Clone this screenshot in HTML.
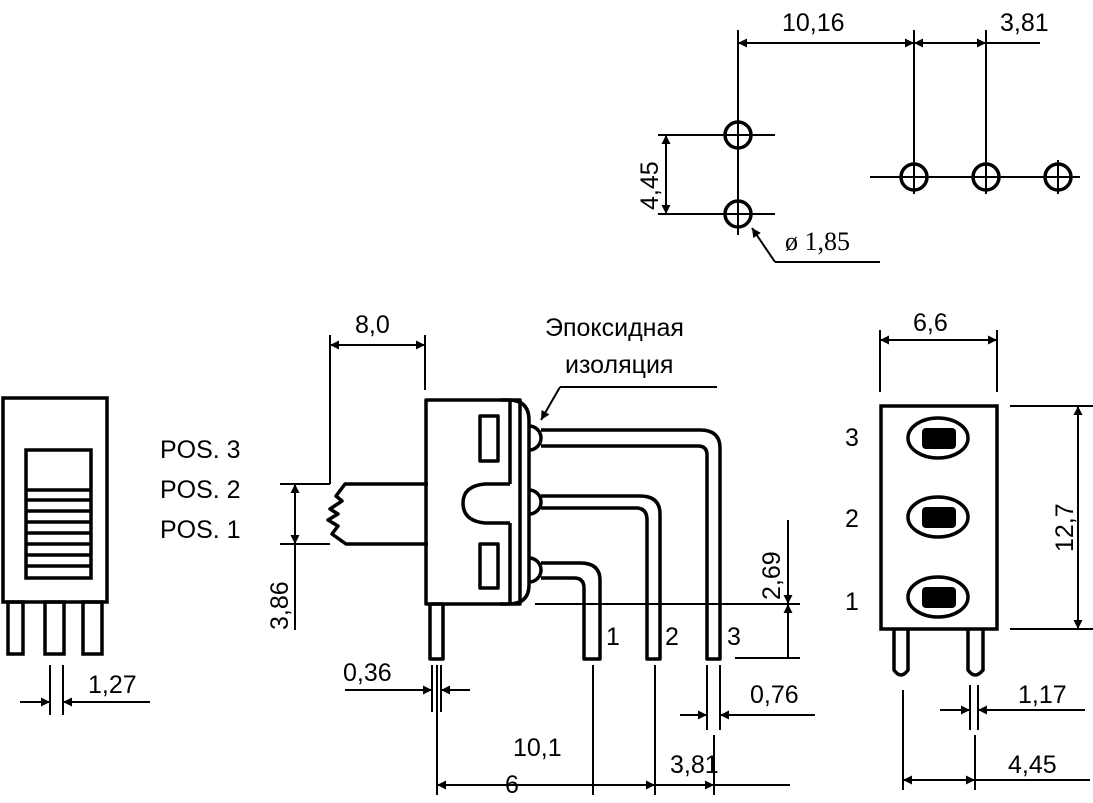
<!DOCTYPE html>
<html><head><meta charset="utf-8"><style>
html,body{margin:0;padding:0;background:#fff;}
svg{display:block;}
text{font-family:"Liberation Sans",sans-serif;font-size:25px;fill:#000;}
</style></head><body>
<svg width="1093" height="803" viewBox="0 0 1093 803" xmlns="http://www.w3.org/2000/svg">
<defs>
<marker id="a" viewBox="0 0 10 10" refX="10" refY="5" markerWidth="16" markerHeight="9" markerUnits="userSpaceOnUse" orient="auto-start-reverse"><path d="M0,0 L10,5 L0,10 z" fill="#000"/></marker>
</defs>
<g stroke="#000" fill="none">
<g stroke-width="2">
<line x1="738" y1="30" x2="738" y2="135"/>
<line x1="914" y1="30" x2="914" y2="177"/>
<line x1="986" y1="30" x2="986" y2="177"/>
<line x1="738" y1="43" x2="914" y2="43" marker-start="url(#a)" marker-end="url(#a)"/>
<line x1="914" y1="43" x2="986" y2="43" marker-start="url(#a)" marker-end="url(#a)"/>
<line x1="986" y1="43" x2="1040" y2="43"/>
<line x1="658" y1="135" x2="775" y2="135"/>
<line x1="658" y1="214" x2="775" y2="214"/>
<line x1="666" y1="135" x2="666" y2="214" marker-start="url(#a)" marker-end="url(#a)"/>
<line x1="738" y1="114" x2="738" y2="235"/>
<line x1="870" y1="177" x2="1080" y2="177"/>
<line x1="775" y1="262" x2="880" y2="262"/>
<line x1="775" y1="262" x2="752" y2="228" marker-end="url(#a)"/>
</g>
<g stroke-width="3.5">
<circle cx="738" cy="135" r="13"/><circle cx="738" cy="214" r="13"/>
<circle cx="914" cy="177" r="13"/><circle cx="986" cy="177" r="13"/><circle cx="1058" cy="177" r="13"/>
</g>
<g stroke-width="2">
<line x1="914" y1="160" x2="914" y2="194"/><line x1="986" y1="160" x2="986" y2="194"/><line x1="1058" y1="160" x2="1058" y2="194"/>
</g>
<g stroke-width="3.5">
<rect x="3" y="398" width="104" height="204"/>
<rect x="26" y="450" width="65" height="128"/>
<rect x="8" y="602" width="15" height="52"/>
<rect x="45" y="602" width="19" height="52"/>
<rect x="83" y="602" width="19" height="52"/>
<line x1="26" y1="490" x2="91" y2="490"/><line x1="26" y1="500" x2="91" y2="500"/>
<line x1="26" y1="511" x2="91" y2="511"/><line x1="26" y1="522" x2="91" y2="522"/>
<line x1="26" y1="533" x2="91" y2="533"/><line x1="26" y1="544" x2="91" y2="544"/>
<line x1="26" y1="555" x2="91" y2="555"/><line x1="26" y1="566" x2="91" y2="566"/>
</g>
<g stroke-width="2">
<line x1="50" y1="665" x2="50" y2="715"/><line x1="63" y1="665" x2="63" y2="715"/>
<line x1="20" y1="702" x2="50" y2="702" marker-end="url(#a)"/>
<line x1="150" y1="702" x2="63" y2="702" marker-end="url(#a)"/>
</g>
<g stroke-width="2">
<line x1="330" y1="335" x2="330" y2="484"/>
<line x1="425" y1="335" x2="425" y2="390"/>
<line x1="330" y1="345" x2="425" y2="345" marker-start="url(#a)" marker-end="url(#a)"/>
<line x1="280" y1="484" x2="330" y2="484"/>
<line x1="280" y1="544" x2="330" y2="544"/>
<line x1="295" y1="484" x2="295" y2="544" marker-start="url(#a)" marker-end="url(#a)"/>
<line x1="295" y1="544" x2="295" y2="630"/>
<line x1="560" y1="387" x2="717" y2="387"/>
<line x1="560" y1="387" x2="541" y2="420" marker-end="url(#a)"/>
<line x1="535" y1="604" x2="800" y2="604"/>
<line x1="735" y1="658" x2="800" y2="658"/>
<line x1="788" y1="520" x2="788" y2="604" marker-end="url(#a)"/>
<line x1="788" y1="658" x2="788" y2="604" marker-end="url(#a)"/>
<line x1="432" y1="665" x2="432" y2="712"/><line x1="441" y1="665" x2="441" y2="712"/>
<line x1="345" y1="690" x2="432" y2="690" marker-end="url(#a)"/>
<line x1="470" y1="690" x2="441" y2="690" marker-end="url(#a)"/>
<line x1="437" y1="665" x2="437" y2="795"/>
<line x1="593" y1="665" x2="593" y2="795"/>
<line x1="655" y1="665" x2="655" y2="795"/>
<line x1="707" y1="665" x2="707" y2="730"/><line x1="720" y1="665" x2="720" y2="730"/>
<line x1="714" y1="735" x2="714" y2="795"/>
<line x1="680" y1="715" x2="707" y2="715" marker-end="url(#a)"/>
<line x1="815" y1="715" x2="720" y2="715" marker-end="url(#a)"/>
<line x1="437" y1="785" x2="655" y2="785" marker-start="url(#a)" marker-end="url(#a)"/>
<line x1="655" y1="785" x2="714" y2="785" marker-end="url(#a)"/>
<line x1="714" y1="785" x2="790" y2="785"/>
</g>
<g stroke-width="3.5" stroke-linejoin="round">
<rect x="426" y="400" width="94" height="204"/>
<path d="M510,400 L510,484 M510,523 L510,604"/>
<path d="M500,400 L508,400 Q529,400 529,420 L529,585 Q529,604 508,604 L500,604"/>
<path d="M510,484 L485,484 Q463,486 463,503 Q463,521 485,523 L510,523"/>
<rect x="480" y="416" width="18" height="45"/>
<rect x="480" y="544" width="18" height="44"/>
<path d="M529,426 A12,12 0 0 1 529,450"/>
<path d="M529,490 A12,12 0 0 1 529,514"/>
<path d="M529,558 A12,12 0 0 1 529,582"/>
<path d="M541,430 L700,430 Q720,430 720,448 L720,659 L707,659 L707,455 Q707,446 698,446 L541,446"/>
<path d="M541,496 L640,496 Q660,496 660,514 L660,659 L647,659 L647,520 Q647,508 636,508 L541,508"/>
<path d="M541,563 L580,563 Q600,563 600,580 L600,659 L584,659 L584,588 Q584,578 574,578 L541,578"/>
<rect x="430" y="604" width="13" height="55"/>
<path d="M428,484 L345,484 L336,496 L342,501 L330,509 L338,514 L328,520 L338,526 L332,534 L346,544 L428,544"/>
</g>
<g stroke-width="2">
<line x1="880" y1="330" x2="880" y2="392"/><line x1="997" y1="330" x2="997" y2="392"/>
<line x1="880" y1="340" x2="997" y2="340" marker-start="url(#a)" marker-end="url(#a)"/>
<line x1="1010" y1="406" x2="1093" y2="406"/><line x1="1010" y1="629" x2="1093" y2="629"/>
<line x1="1078" y1="406" x2="1078" y2="629" marker-start="url(#a)" marker-end="url(#a)"/>
<line x1="970" y1="685" x2="970" y2="730"/><line x1="978" y1="685" x2="978" y2="730"/>
<line x1="940" y1="710" x2="970" y2="710" marker-end="url(#a)"/>
<line x1="1085" y1="710" x2="978" y2="710" marker-end="url(#a)"/>
<line x1="903" y1="690" x2="903" y2="790"/><line x1="975" y1="735" x2="975" y2="790"/>
<line x1="903" y1="780" x2="975" y2="780" marker-start="url(#a)" marker-end="url(#a)"/>
<line x1="975" y1="780" x2="1090" y2="780"/>
</g>
<g stroke-width="3.5">
<rect x="881" y="406" width="116" height="223"/>
<ellipse cx="938" cy="438" rx="30" ry="20"/>
<ellipse cx="938" cy="517" rx="30" ry="20"/>
<ellipse cx="938" cy="597" rx="30" ry="20"/>
<path d="M894,629 L894,670 Q901,680 908,670 L908,629"/>
<path d="M968,629 L968,670 Q975,680 983,670 L983,629"/>
</g>
<g fill="#000" stroke="none">
<rect x="922" y="428" width="34" height="21" rx="4"/>
<rect x="922" y="507" width="34" height="21" rx="4"/>
<rect x="922" y="587" width="34" height="21" rx="4"/>
</g>
</g>
<text x="782" y="31">10,16</text>
<text x="1000" y="31">3,81</text>
<text transform="translate(658,210) rotate(-90)">4,45</text>
<text x="785" y="250" style="font-family:'Liberation Serif',serif;font-size:26px">ø 1,85</text>
<text x="88" y="693">1,27</text>
<text x="355" y="333">8,0</text>
<text x="545" y="336">Эпоксидная</text>
<text x="565" y="373">изоляция</text>
<text x="160" y="458">POS. 3</text>
<text x="160" y="498">POS. 2</text>
<text x="160" y="538">POS. 1</text>
<text transform="translate(288,630) rotate(-90)">3,86</text>
<text transform="translate(780,600) rotate(-90)">2,69</text>
<text x="606" y="645">1</text>
<text x="665" y="645">2</text>
<text x="727" y="645">3</text>
<text x="343" y="681">0,36</text>
<text x="750" y="703">0,76</text>
<text x="513" y="756">10,1</text>
<text x="505" y="793">6</text>
<text x="670" y="773">3,81</text>
<text x="913" y="331">6,6</text>
<text x="845" y="446">3</text>
<text x="845" y="527">2</text>
<text x="845" y="610">1</text>
<text transform="translate(1073,552) rotate(-90)">12,7</text>
<text x="1018" y="703">1,17</text>
<text x="1008" y="773">4,45</text>
</svg>
</body></html>
